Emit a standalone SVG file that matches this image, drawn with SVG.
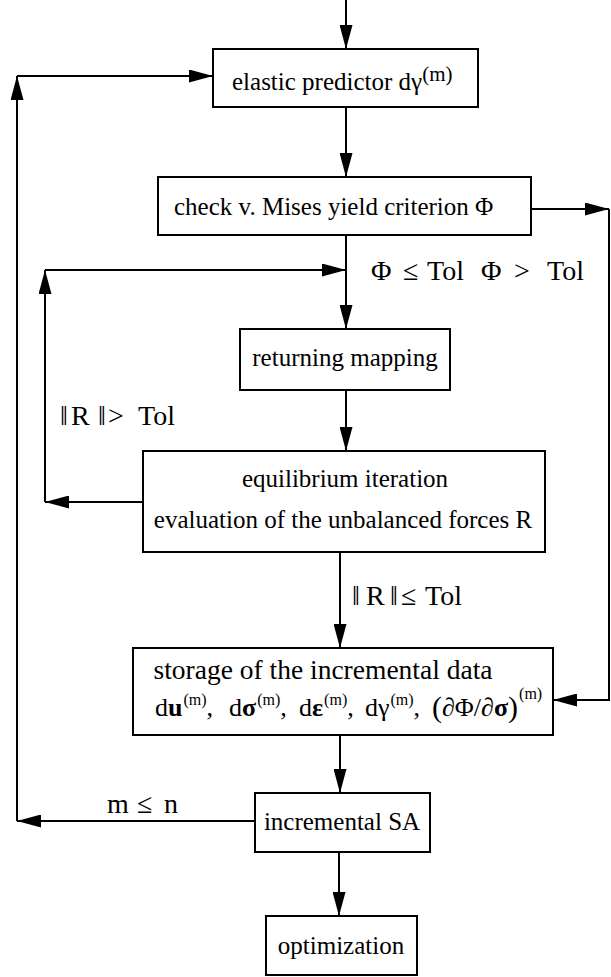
<svg xmlns="http://www.w3.org/2000/svg" width="611" height="977" viewBox="0 0 611 977">
<style>
.box{fill:#fff;stroke:#000;stroke-width:2}
.ln{fill:none;stroke:#000;stroke-width:2;marker-end:url(#ah)}
text{font-family:"Liberation Serif","DejaVu Serif",serif;font-size:25px;fill:#000}
.lb{font-size:28px}
.sup{font-size:16px}
.b{font-weight:bold}
</style>
<defs>
<marker id="ah" markerUnits="userSpaceOnUse" markerWidth="24" markerHeight="13" refX="24" refY="6.5" orient="auto">
<path d="M0,0 L24,6.5 L0,13 z" fill="#000"/>
</marker>
</defs>
<rect width="611" height="977" fill="#fff"/>
<g id="connectors">
<path class="ln" d="M346,0 V49"/>
<path class="ln" d="M346,107 V177"/>
<path class="ln" d="M346,235 V329"/>
<path class="ln" d="M346,390 V451"/>
<path class="ln" d="M340,552 V648"/>
<path class="ln" d="M340,735 V793"/>
<path class="ln" d="M339,852 V916"/>
<path class="ln" d="M531,209 H609"/>
<path class="ln" d="M609,209 V700 H553"/>
<path class="ln" d="M143,502 H45"/>
<path class="ln" d="M45,502 V270"/>
<path class="ln" d="M45,270 H346"/>
<path class="ln" d="M255,821 H17"/>
<path class="ln" d="M17,821 V76"/>
<path class="ln" d="M17,76 H213"/>
<text class="lb"><tspan x="371" y="280">Φ</tspan><tspan x="403" y="280">≤</tspan><tspan x="427" y="280">Tol</tspan></text>
<text class="lb"><tspan x="481" y="280">Φ</tspan><tspan x="514" y="280">&gt;</tspan><tspan x="547" y="280">Tol</tspan></text>
<text class="lb"><tspan x="60" y="425">‖</tspan><tspan x="71" y="425">R</tspan><tspan x="98" y="425">‖</tspan><tspan x="108" y="425">&gt;</tspan><tspan x="138" y="425">Tol</tspan></text>
<text class="lb"><tspan x="352" y="605">‖</tspan><tspan x="366" y="605">R</tspan><tspan x="390" y="605">‖</tspan><tspan x="401" y="605">≤</tspan><tspan x="425" y="605">Tol</tspan></text>
<text class="lb"><tspan x="107" y="813">m</tspan><tspan x="137" y="813">≤</tspan><tspan x="164" y="813">n</tspan></text>
</g>
<g id="n1">
<rect class="box" x="213" y="49" width="265" height="58"/>
<text x="232" y="90">elastic predictor dγ<tspan font-size="21" dy="-9">(m)</tspan></text>
</g>
<g id="n2">
<rect class="box" x="158" y="177" width="373" height="58"/>
<text x="174" y="215">check v. Mises yield criterion Φ</text>
</g>
<g id="n3">
<rect class="box" x="240" y="329" width="210" height="61"/>
<text x="345" y="366" text-anchor="middle">returning mapping</text>
</g>
<g id="n4">
<rect class="box" x="143" y="451" width="402" height="101"/>
<text x="345" y="487" text-anchor="middle">equilibrium iteration</text>
<text x="343" y="528" text-anchor="middle">evaluation of the unbalanced forces R</text>
</g>
<g id="n5">
<rect class="box" x="133" y="648" width="420" height="87"/>
<text x="323" y="679" text-anchor="middle" style="font-size:27.5px">storage of the incremental data</text>
<text style="font-size:26px"><tspan x="155" y="716">d</tspan><tspan class="b">u</tspan><tspan class="sup" dx="1" dy="-11">(m)</tspan><tspan dy="11">,</tspan><tspan x="229" y="716">d</tspan><tspan class="b">σ</tspan><tspan class="sup" dx="1" dy="-11">(m)</tspan><tspan dy="11">,</tspan><tspan x="299" y="716">d</tspan><tspan class="b">ε</tspan><tspan class="sup" dx="1" dy="-11">(m)</tspan><tspan dy="11">,</tspan><tspan x="365" y="716">dγ</tspan><tspan class="sup" dx="1" dy="-11">(m)</tspan><tspan dy="11">,</tspan><tspan x="432" y="717" font-size="30">(</tspan><tspan dy="-1">∂Φ/∂</tspan><tspan class="b">σ</tspan><tspan font-size="30" dy="1">)</tspan><tspan class="sup" dx="1" dy="-18">(m)</tspan></text>
</g>
<g id="n6">
<rect class="box" x="255" y="793" width="175" height="59"/>
<text x="342" y="830" text-anchor="middle">incremental SA</text>
</g>
<g id="n7">
<rect class="box" x="266" y="916" width="151" height="59"/>
<text x="341" y="954" text-anchor="middle">optimization</text>
</g>
</svg>
